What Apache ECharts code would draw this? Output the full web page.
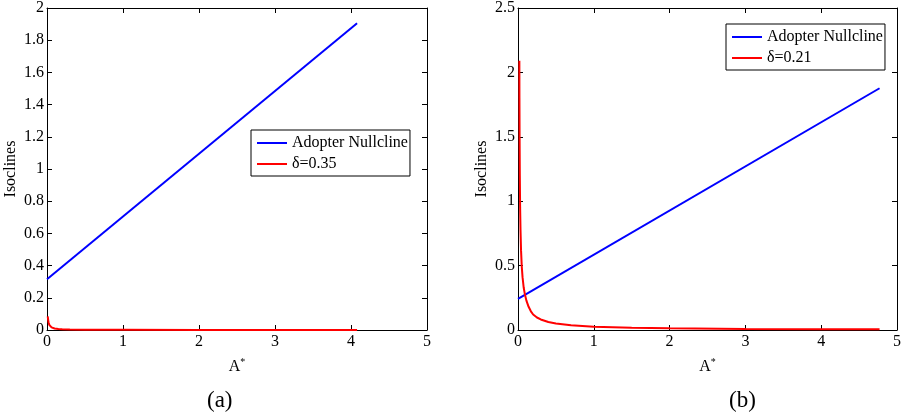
<!DOCTYPE html>
<html><head><meta charset="utf-8">
<script src="https://cdn.jsdelivr.net/npm/echarts@6/dist/echarts.min.js"></script>
<style>html,body{margin:0;padding:0;background:#fff}#c{width:904px;height:419px}</style>
</head><body><div id="c"></div>
<script>
// Panel (a)
var xTicksA = [0, 1, 2, 3, 4, 5];
var adopterA = [[0, 0.315], [4.08, 1.905]];
var deltaA = [[0.01, 0.085], [0.015, 0.062], [0.02, 0.048], [0.03, 0.032], [0.04, 0.024], [0.06, 0.016], [0.08, 0.012], [0.1, 0.009], [0.15, 0.006], [0.2, 0.0045], [0.3, 0.003], [0.5, 0.0018], [1, 0.0009], [2, 0.0005], [3, 0.0003], [4.08, 0.0002]];
// Panel (b)
var adopterB = [[0, 0.241], [4.77, 1.877]];
var deltaB = [[0.018, 2.09], [0.019, 1.8], [0.021, 1.5], [0.024, 1.2], [0.028, 0.95], [0.033, 0.78], [0.04, 0.62], [0.05, 0.49], [0.06, 0.41], [0.075, 0.33], [0.09, 0.28], [0.11, 0.23], [0.14, 0.18], [0.17, 0.145], [0.2, 0.12], [0.25, 0.097], [0.3, 0.082], [0.4, 0.062], [0.5, 0.05], [0.7, 0.036], [1, 0.026], [1.5, 0.017], [2, 0.013], [3, 0.0085], [4, 0.0065], [4.77, 0.0055]];
var labelA = 'δ=0.35', labelB = 'δ=0.21', labelAdopter = 'Adopter Nullcline';
var yNameText = 'Isoclines';
var panelA = '(a)', panelB = '(b)';

var font = 'Liberation Serif';
var fs = 16;
var chart = echarts.init(document.getElementById('c'), null, {renderer: 'canvas'});

function xAx(grid, pos, showLabel, withName) {
  var a = {
    type: 'value', gridIndex: grid, position: pos, min: 0, max: 5, interval: 1,
    axisLine: {show: true, onZero: false, lineStyle: {color: '#000', width: 1}},
    axisTick: {show: true, inside: true, length: 5, lineStyle: {color: '#000'}},
    splitLine: {show: false},
    axisLabel: {show: showLabel, color: '#000', fontFamily: font, fontSize: fs, margin: 4}
  };
  if (withName) {
    a.name = 'A{s|*}';
    a.nameLocation = 'middle';
    a.nameGap = 27;
    a.nameTextStyle = {color: '#000', fontFamily: font, fontSize: fs,
      rich: {s: {fontFamily: font, fontSize: 10, verticalAlign: 'top', padding: [0, 0, 9, 0], color: '#000'}}};
  }
  return a;
}
function yAx(grid, pos, max, interval, showLabel, withName, gap) {
  var a = {
    type: 'value', gridIndex: grid, position: pos, min: 0, max: max, interval: interval,
    axisLine: {show: true, onZero: false, lineStyle: {color: '#000', width: 1}},
    axisTick: {show: true, inside: true, length: 5, lineStyle: {color: '#000'}},
    splitLine: {show: false},
    axisLabel: {show: showLabel, color: '#000', fontFamily: font, fontSize: fs, margin: 3}
  };
  if (withName) {
    a.name = yNameText;
    a.nameLocation = 'middle';
    a.nameGap = gap;
    a.nameRotate = 90;
    a.nameTextStyle = {color: '#000', fontFamily: font, fontSize: fs};
  }
  return a;
}
function legend(left, top, names) {
  return {left: left, top: top, orient: 'vertical', padding: [5, 2, 4, 6], itemGap: 5, itemWidth: 30, itemHeight: 2,
    icon: 'rect', borderColor: '#000', borderWidth: 1, backgroundColor: '#fff', borderRadius: 0,
    textStyle: {fontFamily: font, fontSize: fs, color: '#000', lineHeight: 16},
    data: names.map(function (n) { return {name: n}; })};
}

var option = {
  animation: false,
  backgroundColor: '#fff',
  grid: [
    {left: 47, top: 8, width: 380, height: 322, show: false},
    {left: 518, top: 8, width: 380, height: 322, show: false}
  ],
  xAxis: [xAx(0, 'bottom', true, true), xAx(0, 'top', false, false), xAx(1, 'bottom', true, true), xAx(1, 'top', false, false)],
  yAxis: [yAx(0, 'left', 2, 0.2, true, true, 28), yAx(0, 'right', 2, 0.2, false, false), yAx(1, 'left', 2.5, 0.5, true, true, 28), yAx(1, 'right', 2.5, 0.5, false, false)],
  legend: [legend(251, 130, [labelAdopter, labelA]), legend(726, 24, [labelAdopter, labelB])],
  graphic: [
    {type: 'text', left: 207, top: 389, style: {text: panelA, font: '23px "Liberation Serif"', fill: '#000'}},
    {type: 'text', left: 729, top: 389, style: {text: panelB, font: '23px "Liberation Serif"', fill: '#000'}}
  ],
  series: [
    {name: labelAdopter, type: 'line', xAxisIndex: 0, yAxisIndex: 0, data: adopterA, symbol: 'none', lineStyle: {color: '#0000ff', width: 2}, itemStyle: {color: '#0000ff'}},
    {name: labelA, type: 'line', xAxisIndex: 0, yAxisIndex: 0, data: deltaA, symbol: 'none', lineStyle: {color: '#ff0000', width: 2}, itemStyle: {color: '#ff0000'}},
    {name: labelAdopter, type: 'line', xAxisIndex: 2, yAxisIndex: 2, data: adopterB, symbol: 'none', lineStyle: {color: '#0000ff', width: 2}, itemStyle: {color: '#0000ff'}},
    {name: labelB, type: 'line', xAxisIndex: 2, yAxisIndex: 2, data: deltaB, symbol: 'none', lineStyle: {color: '#ff0000', width: 2}, itemStyle: {color: '#ff0000'}}
  ]
};
chart.setOption(option);
</script>
</body></html>
